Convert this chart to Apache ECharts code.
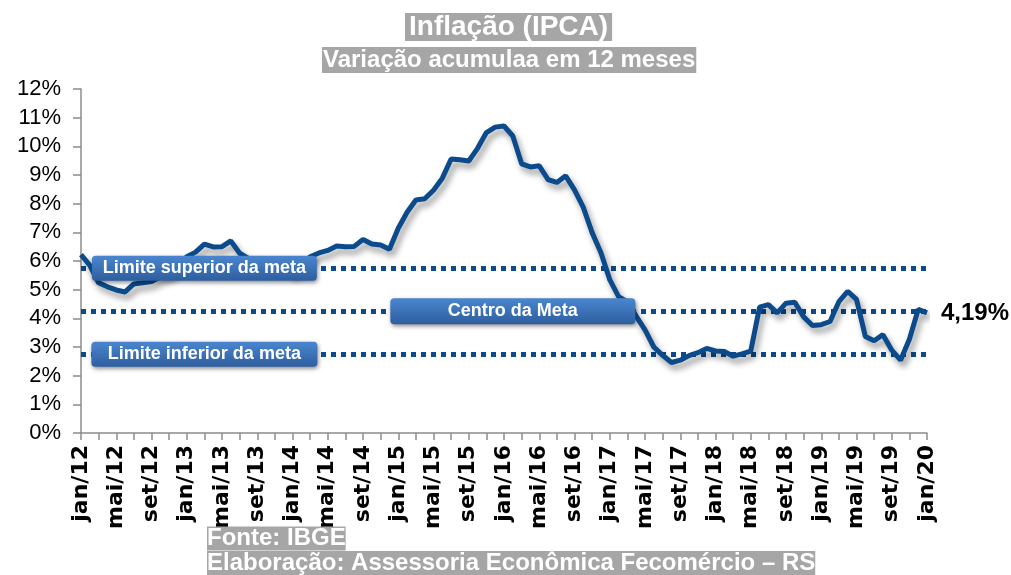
<!DOCTYPE html>
<html>
<head>
<meta charset="utf-8">
<script src="https://cdn.jsdelivr.net/npm/echarts@6/dist/echarts.min.js"></script>
<style>html,body{margin:0;padding:0;background:#fff}#c{width:1011px;height:575px}</style>
</head>
<body>
<div id="c"></div>
<script>
// Month names (pt-BR) and years used for the category axis
const monthNames = ['jan','fev','mar','abr','mai','jun','jul','ago','set','out','nov','dez'];
const years = ['12','13','14','15','16','17','18','19','20'];

// IPCA, variação acumulada em 12 meses (%)
const ipca2012 = [6.22, 5.85, 5.24, 5.10, 4.99, 4.92, 5.20, 5.24, 5.28, 5.45, 5.53, 5.84];
const ipca2013 = [6.15, 6.31, 6.59, 6.49, 6.50, 6.70, 6.27, 6.09, 5.86, 5.84, 5.77, 5.91];
const ipca2014 = [5.59, 5.68, 6.15, 6.28, 6.37, 6.52, 6.50, 6.51, 6.75, 6.59, 6.56, 6.41];
const ipca2015 = [7.14, 7.70, 8.13, 8.17, 8.47, 8.89, 9.56, 9.53, 9.49, 9.93, 10.48, 10.67];
const ipca2016 = [10.71, 10.36, 9.39, 9.28, 9.32, 8.84, 8.74, 8.97, 8.48, 7.87, 6.99, 6.29];
const ipca2017 = [5.35, 4.76, 4.57, 4.08, 3.60, 3.00, 2.71, 2.46, 2.54, 2.70, 2.80, 2.95];
const ipca2018 = [2.86, 2.84, 2.68, 2.76, 2.86, 4.39, 4.48, 4.19, 4.53, 4.56, 4.05, 3.75];
const ipca2019 = [3.78, 3.89, 4.58, 4.94, 4.66, 3.37, 3.22, 3.43, 2.89, 2.54, 3.27, 4.31];
const ipca2020 = [4.19];

// Meta de inflação (2019)
const limiteSuperior = 5.75;
const centroMeta = 4.25;
const limiteInferior = 2.75;

// Y ticks
const yMin = 0, yMax = 12, yStep = 1;

const ipca = [].concat(ipca2012, ipca2013, ipca2014, ipca2015, ipca2016, ipca2017, ipca2018, ipca2019, ipca2020);
const categories = [];
for (let y = 0; y < years.length; y++) {
  for (let m = 0; m < 12; m++) {
    if (categories.length < ipca.length) categories.push(monthNames[m] + '/' + years[y]);
  }
}
const lastLabel = ipca[ipca.length - 1].toFixed(2).replace('.', ',') + '%';

const lineColor = '#0b4a8b';
function roundRectPath(w, h, r) {
  return 'path://M' + r + ',0 H' + (w - r) + ' Q' + w + ',0 ' + w + ',' + r +
    ' V' + (h - r) + ' Q' + w + ',' + h + ' ' + (w - r) + ',' + h +
    ' H' + r + ' Q0,' + h + ' 0,' + (h - r) + ' V' + r + ' Q0,0 ' + r + ',0 Z';
}
function box(name, idx, val, w, h) {
  return {
    name: name, coord: [idx, val], value: name,
    symbol: roundRectPath(w, h, 4), symbolSize: [w, h], symbolKeepAspect: false,
    itemStyle: {
      color: new echarts.graphic.LinearGradient(0, 0, 0, 1, [
        {offset: 0, color: '#4a86d0'},
        {offset: 1, color: '#2e5e9e'}
      ]),
      shadowBlur: 4, shadowColor: 'rgba(0,0,0,0.45)', shadowOffsetX: 1, shadowOffsetY: 2
    },
    label: {show: true, position: 'inside', formatter: name, color: '#fff', fontSize: 18, fontWeight: 'bold', fontFamily: 'Arial, Liberation Sans'}
  };
}

const chart = echarts.init(document.getElementById('c'));
const ttl = {color: '#fff', fontWeight: 'bold', fontFamily: 'Arial, Liberation Sans'};
chart.setOption({
  animation: false,
  backgroundColor: '#fff',
  title: [
    {text: 'Inflação (IPCA)', left: 405, top: 13, backgroundColor: '#a6a6a6', padding: [0, 4],
     textStyle: Object.assign({fontSize: 28, lineHeight: 28}, ttl)},
    {text: 'Variação acumulaa em 12 meses', left: 322, top: 47, backgroundColor: '#a6a6a6', padding: [0, 1],
     textStyle: Object.assign({fontSize: 24, lineHeight: 26}, ttl)},
    {text: 'Fonte: IBGE', left: 207, top: 527, backgroundColor: '#a6a6a6', padding: [0, 0],
     textStyle: Object.assign({fontSize: 24, lineHeight: 23}, ttl)},
    {text: 'Elaboração: Assessoria Econômica Fecomércio – RS', left: 207, top: 551, backgroundColor: '#a6a6a6', padding: [0, 0],
     textStyle: Object.assign({fontSize: 24, lineHeight: 25}, ttl)}
  ],
  grid: {left: 81, right: 84, top: 89, bottom: 142, containLabel: false},
  xAxis: {
    type: 'category', data: categories, boundaryGap: false,
    axisLine: {lineStyle: {color: '#8c8c8c', width: 1.5}},
    axisTick: {show: true, interval: 1, length: 7, lineStyle: {color: '#8c8c8c', width: 1.5}},
    axisLabel: {interval: 3, rotate: 90, margin: 12, color: '#000', fontSize: 22, fontWeight: 'bold', fontFamily: 'DejaVu Sans'},
    splitLine: {show: false}
  },
  yAxis: {
    type: 'value', min: yMin, max: yMax, interval: yStep,
    axisLine: {show: true, lineStyle: {color: '#8c8c8c', width: 1.5}},
    axisTick: {show: true, length: 8, lineStyle: {color: '#8c8c8c', width: 1.5}},
    axisLabel: {formatter: '{value}%', margin: 20, color: '#000', fontSize: 22, fontFamily: 'Arial, Liberation Sans'},
    splitLine: {show: false}
  },
  series: [
    {
      type: 'line', data: ipca, symbol: 'none', z: 3,
      lineStyle: {color: lineColor, width: 5, shadowColor: 'rgba(0,0,0,0.4)', shadowBlur: 6, shadowOffsetX: 3, shadowOffsetY: 5},
      endLabel: {show: true, formatter: lastLabel, color: '#000', fontSize: 24, fontWeight: 'bold', fontFamily: 'Arial, Liberation Sans', distance: 14},
      markLine: {
        silent: true, symbol: 'none', z: 2,
        lineStyle: {color: lineColor, type: [5, 5], width: 5, cap: 'butt'},
        label: {show: false},
        data: [{yAxis: limiteSuperior}, {yAxis: centroMeta}, {yAxis: limiteInferior}]
      },
      markPoint: {
        silent: true, z: 5,
        data: [
          box('Limite superior da meta', 14, limiteSuperior, 225, 25),
          box('Centro da Meta', 49, centroMeta, 245, 26),
          box('Limite inferior da meta', 14, limiteInferior, 226, 25)
        ]
      }
    }
  ]
});
</script>
</body>
</html>
